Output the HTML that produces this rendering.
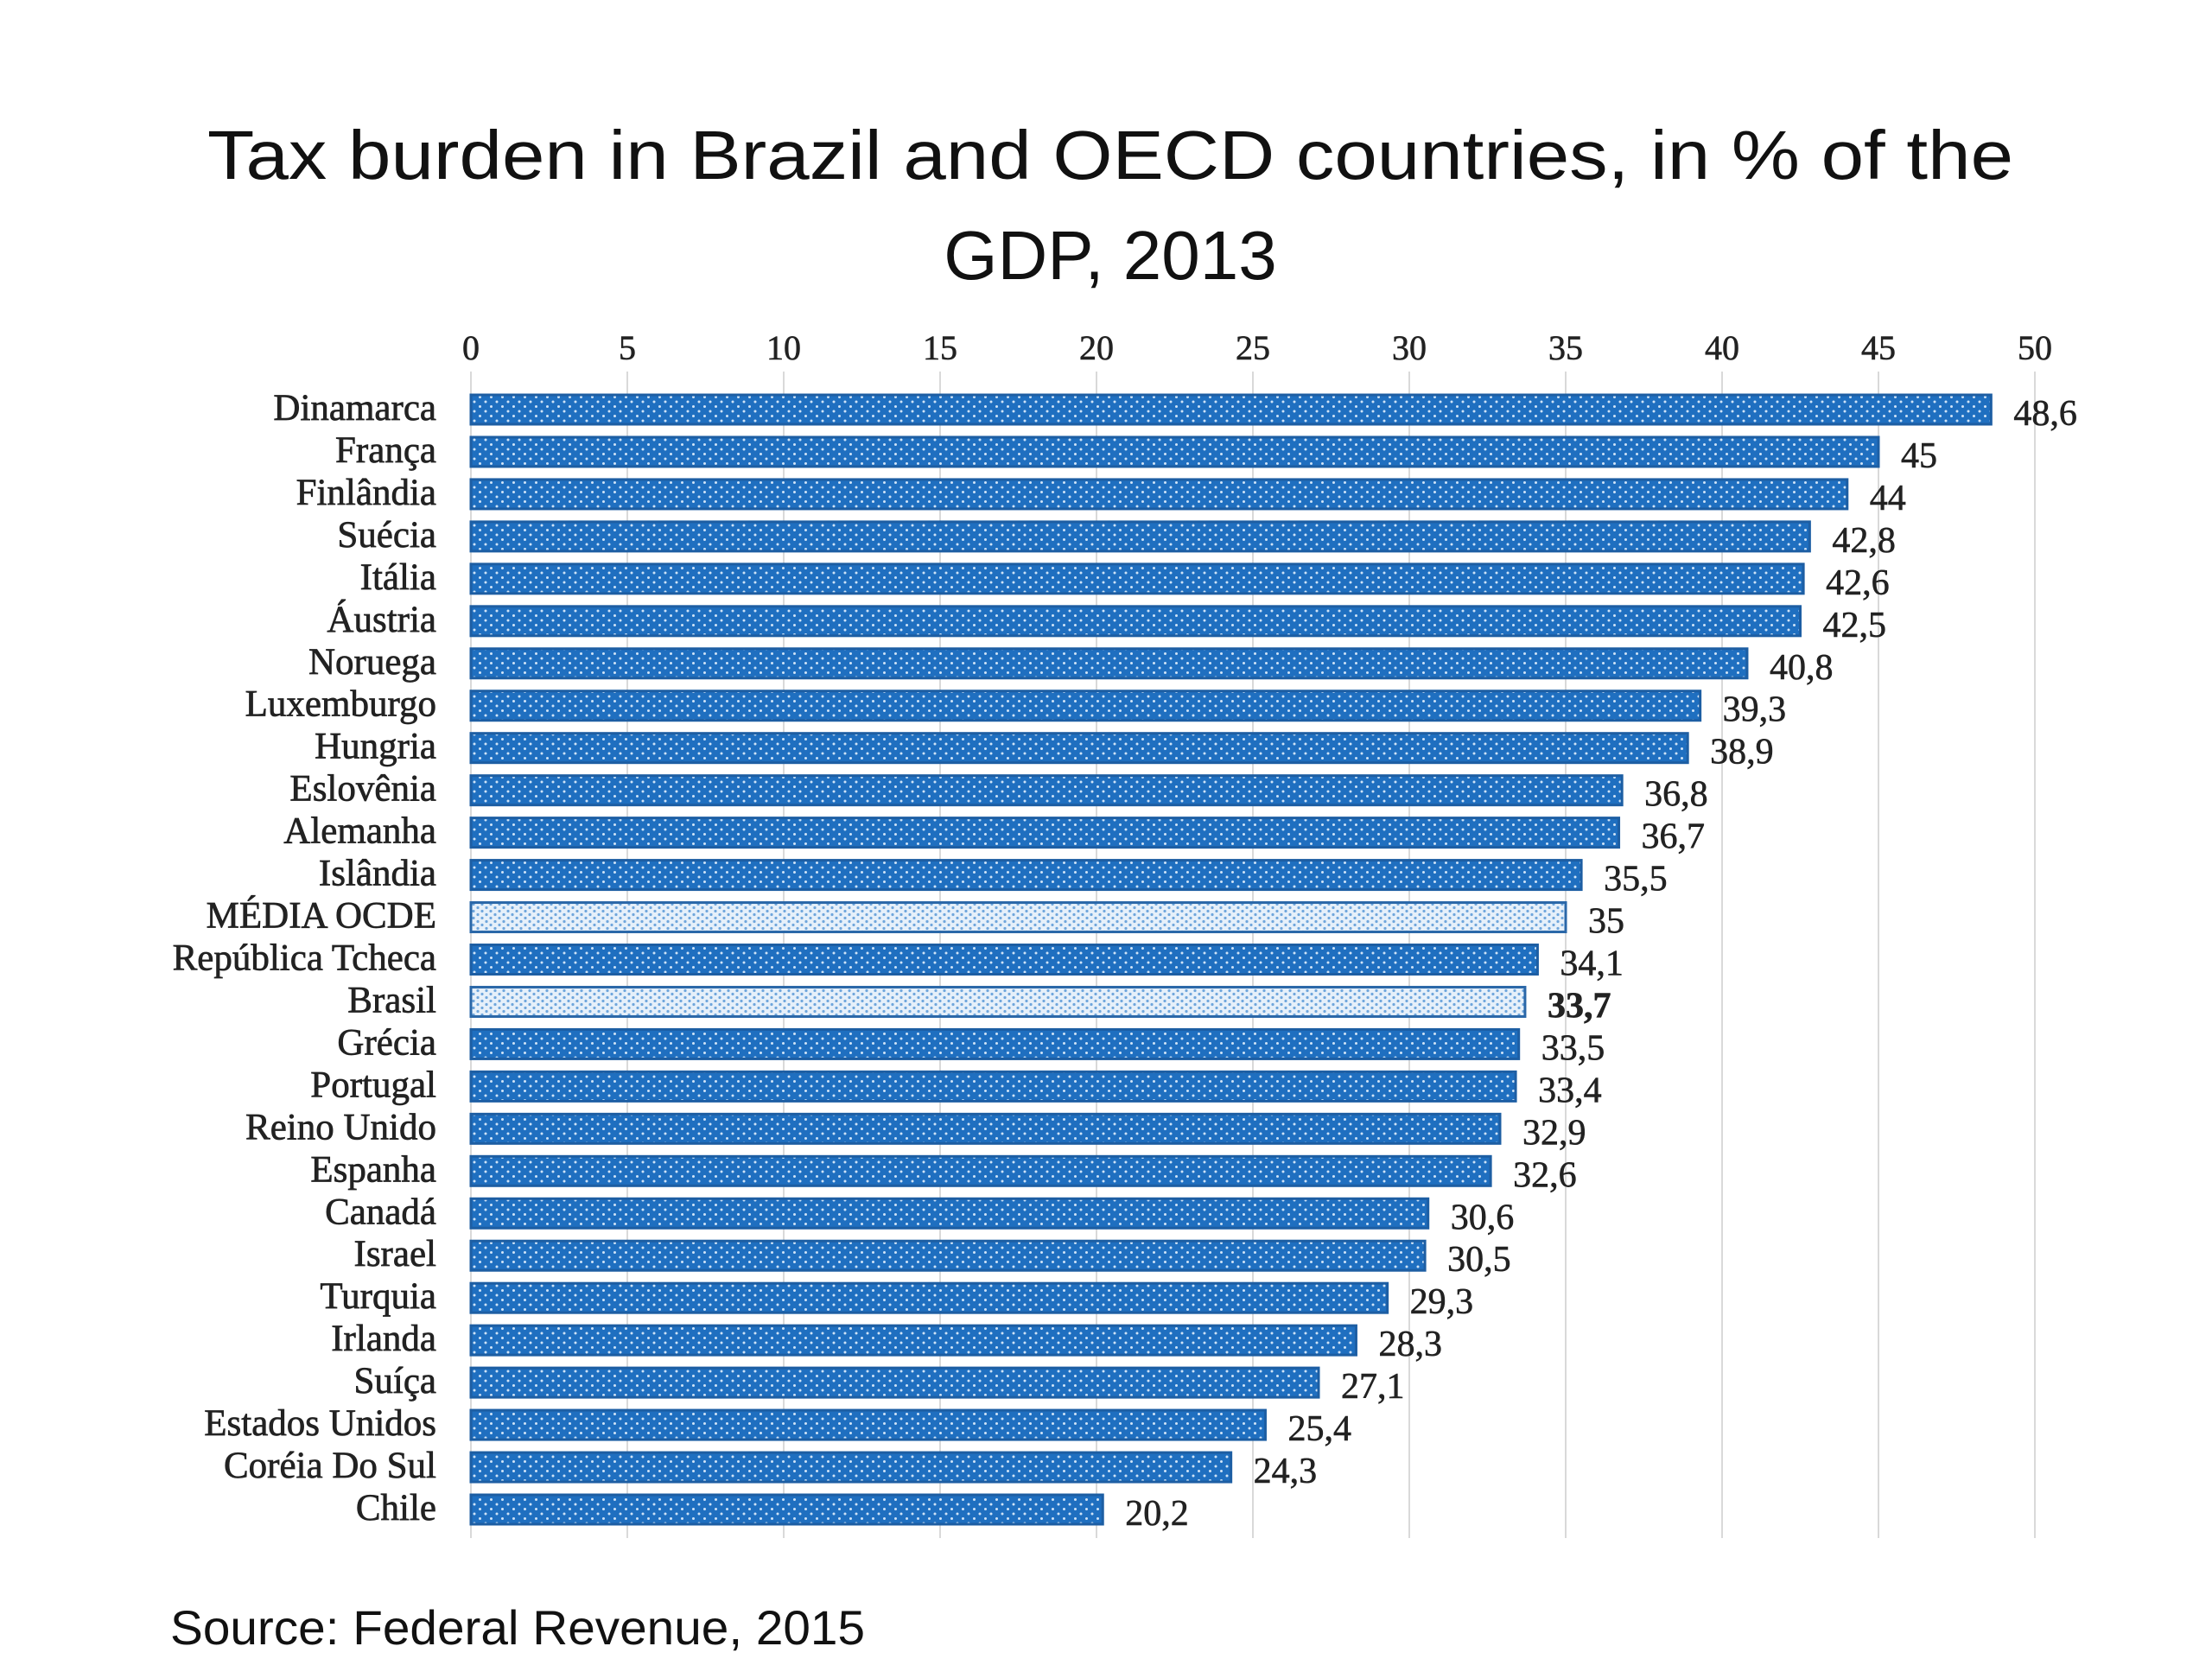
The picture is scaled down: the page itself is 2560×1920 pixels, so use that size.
<!DOCTYPE html>
<html><head><meta charset="utf-8"><style>
html,body{margin:0;padding:0;background:#fff;}
svg{display:block;}
</style></head>
<body>
<svg id="chart" width="2560" height="1920" viewBox="0 0 2560 1920" xmlns="http://www.w3.org/2000/svg">
<defs>
<pattern id="dots" width="13" height="11" patternUnits="userSpaceOnUse">
<rect width="13" height="11" fill="#1f6fc0"/>
<circle cx="3" cy="3" r="1.5" fill="#cfe3f7"/>
<circle cx="9.5" cy="8.5" r="1.5" fill="#cfe3f7"/>
</pattern>
<pattern id="dotsLight" width="10" height="8" patternUnits="userSpaceOnUse">
<rect width="10" height="8" fill="#e6f0fa"/>
<circle cx="3" cy="2.5" r="1.6" fill="#6fa6dc"/>
<circle cx="8" cy="6.5" r="1.6" fill="#6fa6dc"/>
</pattern>
</defs>
<text x="1285" y="207" text-anchor="middle" font-family="Liberation Sans, sans-serif" font-size="80" textLength="2090" lengthAdjust="spacingAndGlyphs" fill="#111">Tax burden in Brazil and OECD countries, in % of the</text>
<text x="1285" y="323" text-anchor="middle" font-family="Liberation Sans, sans-serif" font-size="80" fill="#111">GDP, 2013</text>
<text x="197" y="1903" font-family="Liberation Sans, sans-serif" font-size="56" textLength="804" lengthAdjust="spacingAndGlyphs" fill="#111">Source: Federal Revenue, 2015</text>
<g id="grid"></g>
<g id="ticks"></g>
<g id="bars"></g>
</svg>
<script>
const categories = ["Dinamarca","França","Finlândia","Suécia","Itália","Áustria","Noruega","Luxemburgo","Hungria","Eslovênia","Alemanha","Islândia","MÉDIA OCDE","República Tcheca","Brasil","Grécia","Portugal","Reino Unido","Espanha","Canadá","Israel","Turquia","Irlanda","Suíça","Estados Unidos","Coréia Do Sul","Chile"];
const values = [48.6,45,44,42.8,42.6,42.5,40.8,39.3,38.9,36.8,36.7,35.5,35,34.1,33.7,33.5,33.4,32.9,32.6,30.6,30.5,29.3,28.3,27.1,25.4,24.3,20.2];
const valueLabels = ["48,6","45","44","42,8","42,6","42,5","40,8","39,3","38,9","36,8","36,7","35,5","35","34,1","33,7","33,5","33,4","32,9","32,6","30,6","30,5","29,3","28,3","27,1","25,4","24,3","20,2"];
const highlighted = ["MÉDIA OCDE","Brasil"];
const tickValues = [0,5,10,15,20,25,30,35,40,45,50];

const NS = "http://www.w3.org/2000/svg";
const x0 = 545, x1 = 2355, xMax = 50;
const yFirst = 474, yLast = 1747;
function xScale(v){ return x0 + (v / xMax) * (x1 - x0); }
function yScale(i){ return yFirst + i * (yLast - yFirst) / (categories.length - 1); }
const barH = 34;
function mk(tag, attrs, parent){ const e = document.createElementNS(NS, tag); for (const k in attrs) e.setAttribute(k, attrs[k]); parent.appendChild(e); return e; }

const grid = document.getElementById('grid');
const ticks = document.getElementById('ticks');
tickValues.forEach(t => {
  const l = mk('line', {x1: xScale(t), x2: xScale(t), y1: 430, y2: 1780, stroke: '#d9d9d9', 'stroke-width': 2}, grid);
  
  
  const tx = mk('text', {x: xScale(t), y: 416, 'text-anchor': 'middle', 'font-family': 'Liberation Serif, serif', 'font-size': 40, fill: '#222', stroke: '#222', 'stroke-width': 0.6}, ticks);
  tx.textContent = t;
  
  
});

const bars = document.getElementById('bars');
categories.forEach((c, i) => {
  const y = yScale(i);
  const hl = highlighted.includes(c);
  const lab = mk('text', {x: 505, y: y + 12, 'text-anchor': 'end', 'font-family': 'Liberation Serif, serif', 'font-size': 43, fill: '#222', stroke: '#222', 'stroke-width': 0.7}, bars);
  lab.textContent = c;
  
  
  const r = mk('rect', {x: x0, y: y - barH/2, width: xScale(values[i]) - x0, height: barH, fill: hl ? 'url(#dotsLight)' : 'url(#dots)', stroke: hl ? '#2a67a8' : '#1d5ea3', 'stroke-width': 3}, bars);
  
  
  const v = mk('text', {x: xScale(values[i]) + 26, y: y + 18, 'font-family': 'Liberation Serif, serif', 'font-size': 42, fill: '#222', stroke: '#222', 'stroke-width': 0.6, 'font-weight': c === 'Brasil' ? 'bold' : 'normal'}, bars);
  v.textContent = valueLabels[i];
  
  
});
</script>
</body></html>
